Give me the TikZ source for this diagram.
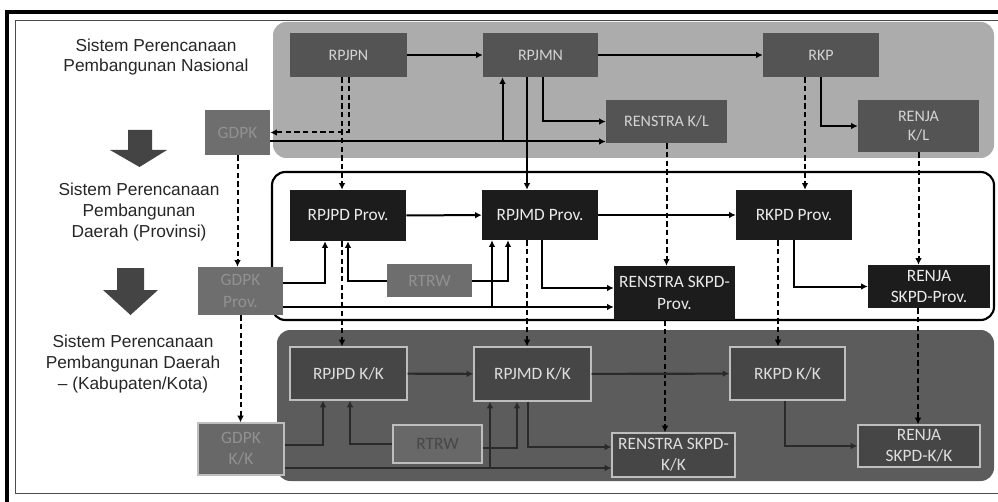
\documentclass[tikz,border=0pt]{standalone}
\usepackage{fontspec}
\setmainfont{Liberation Sans}
\newfontfamily\boxfont{Carlito}
\usepackage{xcolor}
\definecolor{natband}{RGB}{172,172,172}
\definecolor{natbox}{RGB}{84,84,84}
\definecolor{nattext}{RGB}{212,212,212}
\definecolor{provbox}{RGB}{28,28,28}
\definecolor{auxbox}{RGB}{110,110,110}
\definecolor{auxtext}{RGB}{145,145,145}
\definecolor{kkband}{RGB}{92,92,92}
\definecolor{kkbox}{RGB}{70,70,70}
\definecolor{kkedge}{RGB}{190,190,190}
\definecolor{kktext}{RGB}{222,222,222}
\definecolor{kkline}{RGB}{42,42,42}
\definecolor{bigarrow}{RGB}{68,68,68}
\usepackage{tikz}
\usetikzlibrary{arrows.meta,calc}
\tikzset{
  plan/.style={rectangle,inner sep=2pt,align=center,%
    font=\boxfont\fontsize{13}{16}\selectfont},
  natplan/.style={plan,fill=natbox,text=nattext,%
    font=\boxfont\fontsize{12}{14}\selectfont},
  provplan/.style={plan,fill=provbox,text=white!92!black},
  kkplan/.style={plan,fill=kkbox,draw=kkedge,line width=0.9pt,text=kktext},
  auxplan/.style={plan,fill=auxbox,text=auxtext},
  kkaux/.style={plan,fill=auxbox!95!black,draw=kkedge,line width=0.9pt,text=auxtext},
  wh/.style 2 args={minimum width=#1*0.75pt,minimum height=#2*0.75pt},
  flow/.style={-{Latex[length=5pt,width=5pt]},line width=1.5pt,draw=black},
  dflow/.style={flow,dash pattern=on 4pt off 2.5pt},
  kkflow/.style={-{Latex[length=5pt,width=5pt]},line width=1.6pt,draw=kkline},
  level/.style={font=\fontsize{13}{15.5}\selectfont,align=center,text=black!85},
  band/.style={rounded corners=10pt},
}
\begin{document}
\begin{tikzpicture}[x=0.75pt,y=-0.75pt]
\useasboundingbox (0,0) rectangle (998,502);
\draw[line width=2.5pt] (998,12) -- (7,12) -- (7,502);
\draw[line width=0.6pt,black!70] (998,20) -- (15,20) -- (15,493) -- (998,493);
\fill[natband,band] (273,22) rectangle (994,158);
\draw[line width=1.6pt,band] (272,172) rectangle (994,320);
\fill[kkband,band] (277,330) rectangle (994,481);

\node[level] (lvnas) at (156,57) {Sistem Perencanaan\\Pembangunan Nasional};
\node[level] (lvprov) at (139,212) {Sistem Perencanaan\\Pembangunan\\Daerah (Provinsi)};
\node[level] (lvkk) at (133,364) {Sistem Perencanaan\\Pembangunan Daerah\\– (Kabupaten/Kota)};
\fill[bigarrow] (128,130) -- (152,130) -- (152,150) -- (167,150) -- (139.5,167)
  -- (110,150) -- (128,150) -- cycle;
\fill[bigarrow] (117,268) -- (144,268) -- (144,290) -- (158,290) -- (130.5,315)
  -- (103,290) -- (117,290) -- cycle;

\node[natplan,wh={117}{44}] (rpjpn) at (348.5,55) {RPJPN};
\node[natplan,wh={115}{44}] (rpjmn) at (540.5,55) {RPJMN};
\node[natplan,wh={116}{44}] (rkp) at (821,55) {RKP};
\node[natplan,wh={121}{43}] (renstrakl) at (666.5,121.5) {RENSTRA K/L};
\node[natplan,wh={121}{52}] (renjakl) at (918.5,126) {RENJA\\K/L};
\node[auxplan,wh={65}{45}] (gdpk) at (237.5,132.5) {GDPK};

\node[provplan,wh={116}{51}] (rpjpdprov) at (348,215.5) {RPJPD Prov.};
\node[provplan,wh={116}{50}] (rpjmdprov) at (540,215) {RPJMD Prov.};
\node[provplan,wh={116}{50}] (rkpdprov) at (794,215) {RKPD Prov.};
\node[provplan,wh={121}{54}] (renstraprov) at (674.5,293) {RENSTRA SKPD-\\Prov.};
\node[provplan,wh={122}{43}] (renjaprov) at (929,286.5) {RENJA\\SKPD-Prov.};
\node[auxplan,wh={85}{33}] (rtrwprov) at (429.5,280.5) {RTRW};
\node[auxplan,wh={85}{48}] (gdpkprov) at (240.5,291) {GDPK\\Prov.};

\node[kkplan,wh={117}{53}] (rpjpdkk) at (348.5,373.5) {RPJPD K/K};
\node[kkplan,wh={117}{54}] (rpjmdkk) at (532.5,374) {RPJMD K/K};
\node[kkplan,wh={115}{53}] (rkpdkk) at (787.5,373.5) {RKPD K/K};
\node[kkplan,wh={123}{44}] (renstrakk) at (673.5,455) {RENSTRA SKPD-\\K/K};
\node[kkplan,wh={122}{42}] (renjakk) at (919,446) {RENJA\\SKPD-K/K};
\node[kkaux,wh={89}{38},text=black!72] (rtrwkk) at (437.5,444) {RTRW};
\node[kkaux,wh={86}{52}] (gdpkkk) at (241,449) {GDPK\\K/K};

\draw[flow] (rpjpn) -- (rpjmn);
\draw[flow] (rpjmn) -- (rkp);
\draw[flow] ($(rpjmn.south)+(2,0)$) |- (renstrakl.west);
\draw[flow] (rkp.south) |- (renjakl.west);
\draw[dflow] (rpjpn.south) |- (gdpk.east);
\draw[dflow] ($(rpjpn.south)+(-6.5,0)$) -- ($(rpjpdprov.north)+(-6,0)$);
\coordinate (gnas) at ($(gdpk.east)+(0,9)$);
\draw[flow] (gnas) -- (gnas -| renstrakl.west);
\draw[flow] (gnas) -| ($(rpjmn.south)+(-38,0)$);
\draw[flow] ($(rpjmn.south)+(-13.5,0)$) -- ($(rpjmdprov.north)+(-13,0)$);
\draw[dflow] (renstrakl.south) -- (renstrakl.south |- renstraprov.north);
\draw[dflow] ($(rkp.south)+(-16,0)$) -- ($(rkpdprov.north)+(11,0)$);
\draw[dflow] (renjakl.south) -- (renjakl.south |- renjaprov.north);
\draw[dflow] (gdpk.south) -- (gdpk.south |- gdpkprov.north);

\draw[flow] (rpjpdprov) -- (rpjmdprov);
\draw[flow] (rpjmdprov) -- (rkpdprov);
\coordinate (gprov1) at ($(gdpkprov.east)+(0,-8)$);
\coordinate (gprov2) at ($(gdpkprov.east)+(0,16)$);
\draw[flow] (gprov1) -| ($(rpjpdprov.south)+(-23,0)$);
\draw[flow] (rtrwprov.west) -| (rpjpdprov.south);
\draw[flow] (rtrwprov.east) -| ($(rpjmdprov.south)+(-32,0)$);
\draw[flow] (gprov2) -- (gprov2 -| renstraprov.west);
\draw[flow] (gprov2) -| ($(rpjmdprov.south)+(-48,0)$);
\draw[flow] ($(rpjmdprov.south)+(2,0)$) |- ($(renstraprov.west)+(0,-5)$);
\draw[flow] (rkpdprov.south) |- (renjaprov.west);
\draw[dflow] ($(rpjpdprov.south)+(-6,0)$) -- ($(rpjpdprov.south |- rpjpdkk.north)+(-6,0)$);
\draw[dflow] ($(rpjmdprov.south)+(-13,0)$) -- ($(rpjmdprov.south |- rpjmdkk.north)+(-13,0)$);
\draw[dflow] ($(renstraprov.south)+(-9.5,0)$) -- ($(renstraprov.south |- renstrakk.north)+(-9.5,0)$);
\draw[dflow] ($(rkpdprov.south)+(-16,0)$) -- ($(rkpdprov.south |- rkpdkk.north)+(-16,0)$);
\draw[dflow] ($(renjaprov.south)+(-11,0)$) -- ($(renjaprov.south |- renjakk.north)+(-11,0)$);
\draw[dflow] (gdpkprov.south) -- (gdpkprov.south |- gdpkkk.north);

\draw[kkflow] (rpjpdkk) -- (rpjmdkk);
\draw[kkflow] (rpjmdkk) -- (rkpdkk);
\coordinate (gkk1) at ($(gdpkkk.east)+(0,-4)$);
\coordinate (gkk2) at ($(gdpkkk.east)+(0,19)$);
\draw[kkflow] (gkk1) -| ($(rpjpdkk.south)+(-25.5,0)$);
\draw[kkflow] (rtrwkk.west) -| ($(rpjpdkk.south)+(1.5,0)$);
\draw[kkflow] ($(rtrwkk.east)+(0,4)$) -| ($(rpjmdkk.south)+(-15.5,0)$);
\draw[kkflow] (gkk2) -- (gkk2 -| renstrakk.west);
\draw[kkflow] (gkk2) -| ($(rpjmdkk.south)+(-42.5,0)$);
\draw[kkflow] ($(rpjmdkk.south)+(-4.5,0)$) |- ($(renstrakk.west)+(0,-8)$);
\draw[kkflow] ($(rkpdkk.south)+(-2.5,0)$) |- (renjakk.west);
\end{tikzpicture}
\end{document}
